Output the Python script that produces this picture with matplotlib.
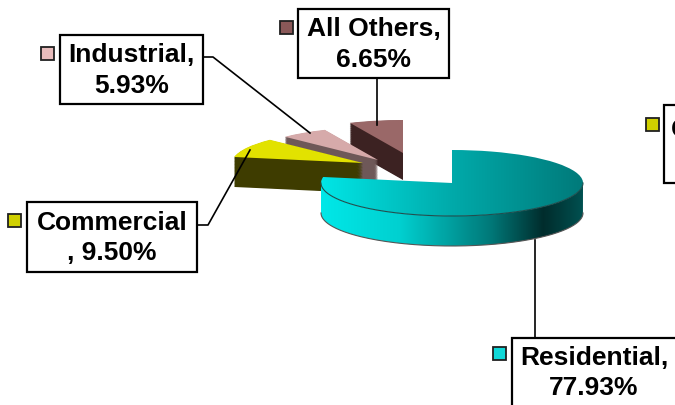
import numpy as np
import matplotlib
matplotlib.use("Agg")
import matplotlib.pyplot as plt
from matplotlib.patches import Wedge, Rectangle, PathPatch
from matplotlib.path import Path
from matplotlib.transforms import Affine2D
from matplotlib.colors import LinearSegmentedColormap

# ---- data ----
categories = ["Residential", "Commercial", "Industrial", "All Others"]
shares = [77.93, 9.50, 5.93, 6.65]
label_texts = ["Residential,\n77.93%", "Commercial\n, 9.50%", "Industrial,\n5.93%", "All Others,\n6.65%"]

# ---- style ----
top_colors = ["#00c8c8", "#e2e200", "#d6aaaa", "#9a6868"]
side_colors = ["#006060", "#3e3c00", "#6e5858", "#3c2222"]
marker_colors = ["#10d8d8", "#d0d000", "#e8bcbc", "#8a5858"]
# pixel-space centers (apex) and thickness of each (exploded) slice
centers = [(452, 183), (363, 163), (378, 160), (403, 153)]
thick = [30, 30, 24, 27]
A, B = 131, 33

W, H = 675, 405
fig = plt.figure(figsize=(6.75, 4.05), dpi=100)
ax = fig.add_axes([0, 0, 1, 1])
ax.set_axis_off()

# slice angles (clockwise from 12 o'clock)
vals = np.array(shares)
cum = np.concatenate([[0], np.cumsum(vals)]) / vals.sum() * 360.0
theta2s = 90 - cum[:-1]
theta1s = 90 - cum[1:]

def tr(cx, cy):
    return Affine2D().scale(A, -B).translate(cx, cy) + ax.transData

draw_order = [3, 2, 1, 0]
for i in draw_order:
    cx, cy = centers[i]
    t1, t2 = theta1s[i], theta2s[i]
    if i == 0:
        th = np.radians(np.linspace(-180, 0, 200))
        topx = cx + A * np.cos(th)
        topy = cy - B * np.sin(th)
        verts = np.concatenate([np.column_stack([topx, topy]),
                                np.column_stack([topx[::-1], topy[::-1] + thick[i]])])
        side_patch = PathPatch(Path(verts), facecolor="none", edgecolor="none",
                               transform=ax.transData)
        ax.add_patch(side_patch)
        cmap_side = LinearSegmentedColormap.from_list(
            "s", [(0, "#00e8e8"), (0.3, "#00d0d0"), (0.65, "#007878"),
                  (0.85, "#002c2c"), (1.0, "#005050")])
        grad = np.linspace(0, 1, 256)[None, :]
        im = ax.imshow(grad, extent=[cx - A, cx + A, cy + B + thick[i], cy - B],
                       cmap=cmap_side, aspect="auto", zorder=2)
        im.set_clip_path(side_patch)
        ax.plot(topx, topy + thick[i], color="#555555", lw=0.8, zorder=3)
        top = Wedge((0, 0), 1, t1, t2, transform=tr(cx, cy),
                    facecolor="none", edgecolor="none")
        ax.add_patch(top)
        cmap_top = LinearSegmentedColormap.from_list(
            "t", [(0, "#00e6e6"), (0.5, "#00aaaa"), (1.0, "#007a7a")])
        im2 = ax.imshow(grad, extent=[cx - A, cx + A, cy + B, cy - B],
                        cmap=cmap_top, aspect="auto", zorder=4)
        im2.set_clip_path(top)
        ax.plot(topx, topy, color="#1f4f4f", lw=0.8, zorder=5)
    else:
        for dy in np.linspace(thick[i], 0.5, 40):
            ax.add_patch(Wedge((0, 0), 1, t1, t2, transform=tr(cx, cy + dy),
                               facecolor=side_colors[i], edgecolor="none", zorder=2))
        ax.add_patch(Wedge((0, 0), 1, t1, t2, transform=tr(cx, cy),
                           facecolor=top_colors[i], edgecolor="none", zorder=2))

# ---- labels ----
font = dict(family=["Liberation Sans", "DejaVu Sans"], fontsize=19, fontweight="bold",
            color="black", linespacing=1.32)
boxes = [(512, 338, 168, 72), (27, 202, 170, 70), (60, 35, 143, 69), (298, 9, 151, 69)]
marks = [(493, 347), (8, 214), (41, 47), (280, 21)]
leaders = [([535, 535], [338, 240]),
           ([197, 208, 250], [225, 225, 150]),
           ([203, 213, 310], [57, 57, 133]),
           ([377, 377], [78, 125])]
for i in range(4):
    x, y, w, h = boxes[i]
    ax.add_patch(Rectangle((x, y), w, h, facecolor="white", edgecolor="black",
                           lw=1.6, zorder=6))
    ax.text(x + w / 2 if i != 0 else 594, y + h / 2 + 1 if i != 0 else 373,
            label_texts[i], ha="center", va="center", zorder=7, **font)
    mx, my = marks[i]
    ax.add_patch(Rectangle((mx, my), 13, 13, facecolor=marker_colors[i],
                           edgecolor="#202020", lw=1.3, zorder=7))
    lx, ly = leaders[i]
    ax.plot(lx, ly, color="black", lw=1.2, zorder=5)

# duplicate Commercial label, mostly beyond the right edge as in the original
ax.add_patch(Rectangle((664, 105), 170, 78, facecolor="white", edgecolor="black",
                       lw=1.6, zorder=6))
ax.text(746, 145, label_texts[1], ha="center", va="center", zorder=7, **font)
ax.add_patch(Rectangle((646, 118), 13, 13, facecolor=marker_colors[1],
                       edgecolor="#202020", lw=1.3, zorder=7))

ax.set_xlim(0, W)
ax.set_ylim(H, 0)
fig.savefig("out.png", dpi=100, facecolor="white")
